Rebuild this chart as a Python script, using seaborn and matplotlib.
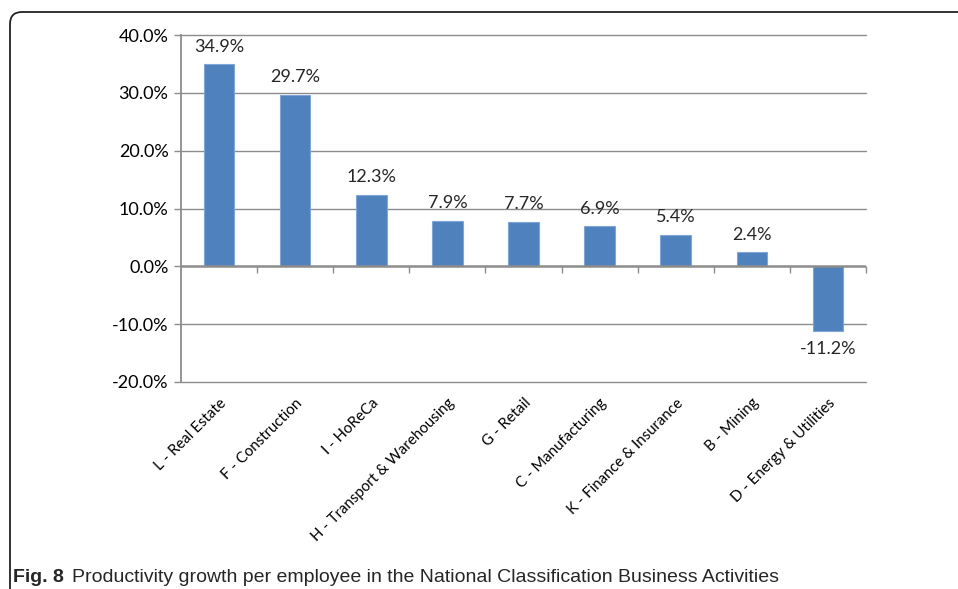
import matplotlib
matplotlib.use("Agg")
import matplotlib.pyplot as plt
from matplotlib.patches import PathPatch
from matplotlib.path import Path
from matplotlib.ticker import FuncFormatter, MultipleLocator
import seaborn as sns
import pandas as pd

# data
categories = ["L - Real Estate", "F - Construction", "I - HoReCa",
              "H - Transport & Warehousing", "G - Retail", "C - Manufacturing",
              "K - Finance & Insurance", "B - Mining", "D - Energy & Utilities"]
growth = [34.9, 29.7, 12.3, 7.9, 7.7, 6.9, 5.4, 2.4, -11.2]

df = pd.DataFrame({"activity": categories, "growth": growth})

sns.set_theme(style="white")
plt.rcParams["font.family"] = ["Lato", "DejaVu Sans"]

W, H = 958, 589
fig = plt.figure(figsize=(W / 100, H / 100), dpi=100)
ax = fig.add_axes([181 / W, 1 - 382 / H, 685 / W, 347 / H])

sns.barplot(data=df, x="activity", y="growth", color="#4F81BD", width=0.4,
            saturation=1, edgecolor="#7FA6D6", linewidth=0.8, ax=ax, zorder=3)

ax.set_ylim(-20, 40)
ax.set_xlim(-0.5, len(categories) - 0.5)
ax.yaxis.set_major_locator(MultipleLocator(10))
ax.yaxis.set_major_formatter(FuncFormatter(lambda v, p: f"{v:.1f}%"))
ax.grid(False)
for v in range(-20, 41, 10):
    if v != 0:
        ax.axhline(v, color="#8C8C8C", linewidth=1.0, zorder=0, clip_on=False)
ax.set_xlabel("")
ax.set_ylabel("")

for s in ["top", "right", "bottom"]:
    ax.spines[s].set_visible(False)
ax.spines["left"].set_color("#8C8C8C")
ax.spines["left"].set_linewidth(1.3)

ax.tick_params(axis="y", left=True, length=5, width=1.0, color="#8C8C8C",
               labelsize=13, labelcolor="black", pad=4)
ax.tick_params(axis="x", bottom=False, labelsize=10.8, labelcolor="black", pad=4)
plt.setp(ax.get_xticklabels(), rotation=45, ha="right", rotation_mode="anchor")

# zero axis line with tick marks between categories
ax.axhline(0, color="#8C8C8C", linewidth=1.8, zorder=4)
bounds = [i + 0.5 for i in range(len(categories))]
ax.plot(bounds, [0] * len(bounds), linestyle="none", marker=3, markersize=5,
        markeredgewidth=1.0, color="#8C8C8C", zorder=4, clip_on=False)

# value labels
for c in ax.containers:
    ax.bar_label(c, labels=[f"{v:.1f}%" for v in growth], padding=7, fontsize=13)

# frame with a rounded top-left corner
x0, y0, r = 10 / W, 1 - 12 / H, 12
verts = [(x0, 0.0), (x0, y0 - r / H), (x0, y0), (x0 + r / W, y0), (1.01, y0)]
codes = [Path.MOVETO, Path.LINETO, Path.CURVE3, Path.CURVE3, Path.LINETO]
fig.patches.append(PathPatch(Path(verts, codes), transform=fig.transFigure,
                             fill=False, edgecolor="#222222", linewidth=1.3))

cap_font = ["Liberation Sans", "DejaVu Sans"]
fig.text(13 / W, 1 - 578 / H, "Fig. 8", fontsize=14, fontweight="bold",
         family=cap_font, va="center", ha="left")
fig.text(72 / W, 1 - 578 / H,
         "Productivity growth per employee in the National Classification Business Activities",
         fontsize=14, family=cap_font, va="center", ha="left")

fig.savefig("out.png", dpi=100)
